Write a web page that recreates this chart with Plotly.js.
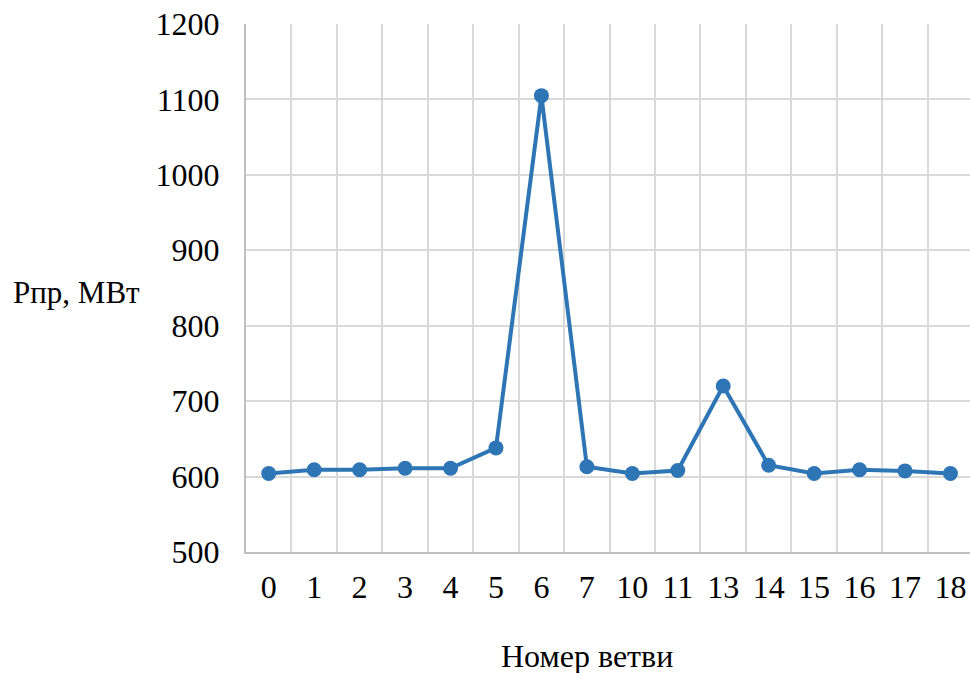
<!DOCTYPE html>
<html>
<head>
<meta charset="utf-8">
<script src="https://cdn.plot.ly/plotly-3.0.1.min.js"></script>
<style>html,body{margin:0;padding:0;overflow:hidden;background:#fff;}</style>
</head>
<body>
<div id="chart" style="width:970px;height:673px;"></div>
<script>
const categories = ["0","1","2","3","4","5","6","7","10","11","13","14","15","16","17","18"];
const values = [604, 609, 609, 611, 611, 638, 1105, 613, 604, 608, 720, 615, 604, 609, 607.5, 604];
const yTicks = [500, 600, 700, 800, 900, 1000, 1100, 1200];
const xTitle = "Номер ветви";
const yTitle = "Рпр, МВт";

const font = "Liberation Serif";

Plotly.newPlot("chart", [{
  type: "scatter",
  mode: "lines+markers",
  x: categories,
  y: values,
  line: {color: "#2e75b6", width: 4},
  marker: {color: "#2e75b6", size: 15},
  hoverinfo: "x+y"
}], {
  width: 970,
  height: 673,
  margin: {l: 246, r: 0, t: 24, b: 121},
  paper_bgcolor: "#fff",
  plot_bgcolor: "#fff",
  showlegend: false,
  font: {family: font, size: 32, color: "#000"},
  xaxis: {
    type: "category",
    range: [-0.5, 15.43],
    tickson: "boundaries",
    showgrid: true,
    gridcolor: "#d9d9d9",
    gridwidth: 2,
    showline: true,
    linecolor: "#bfbfbf",
    linewidth: 2,
    ticks: "",
    ticklabelstandoff: 6,
    tickfont: {family: font, size: 32, color: "#000"},
    zeroline: false
  },
  yaxis: {
    range: [500, 1200],
    tickvals: yTicks,
    showgrid: true,
    gridcolor: "#d9d9d9",
    gridwidth: 2,
    showline: true,
    linecolor: "#bfbfbf",
    linewidth: 2,
    ticks: "",
    ticklabelstandoff: 18,
    tickfont: {family: font, size: 32, color: "#000"},
    zeroline: false
  },
  annotations: [
    {text: xTitle, xref: "paper", yref: "paper", x: (587 - 246) / 724, y: -(656 - 552) / 528, xanchor: "center", yanchor: "middle", showarrow: false, font: {family: font, size: 32, color: "#000"}},
    {text: yTitle, xref: "paper", yref: "paper", x: (76 - 246) / 724, y: (552 - 292) / 528, xanchor: "center", yanchor: "middle", showarrow: false, font: {family: font, size: 31, color: "#000"}}
  ]
}, {displayModeBar: false, staticPlot: true});
</script>
</body>
</html>
